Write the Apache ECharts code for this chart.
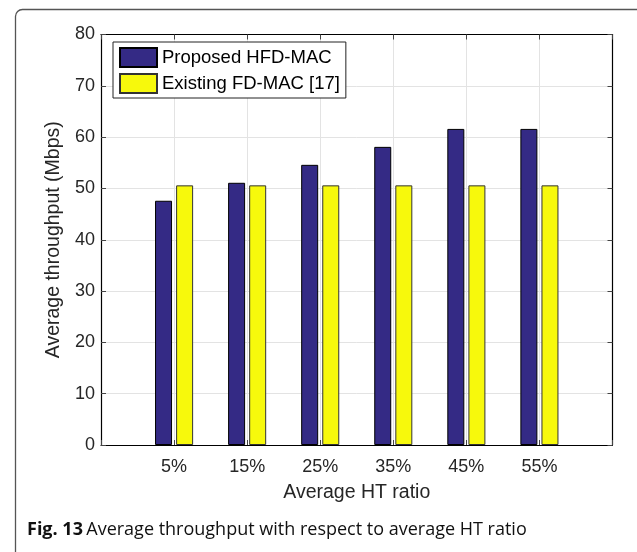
<!DOCTYPE html>
<html><head><meta charset="utf-8">
<script src="https://cdn.jsdelivr.net/npm/echarts@6/dist/echarts.min.js"></script>
<style>html,body{margin:0;padding:0;background:#fff}#c{width:637px;height:552px}</style>
</head><body><div id="c"></div>
<script>
var categories = ['5%', '15%', '25%', '35%', '45%', '55%'];
var proposed = [47.6, 51.1, 54.6, 58.1, 61.6, 61.6];
var existing = [50.6, 50.6, 50.6, 50.6, 50.6, 50.6];
var yTicks = [0, 10, 20, 30, 40, 50, 60, 70, 80];

function pts(arr){ return arr.map(function(v,i){ return [i+1, v]; }); }
var FONT = 'Liberation Sans';
var chart = echarts.init(document.getElementById('c'), null, {renderer:'canvas'});
chart.setOption({
  animation: false,
  backgroundColor: '#fff',
  textStyle: {fontFamily: FONT},
  grid: {left: 101, top: 34.5, right: 24.5, bottom: 107, show: false},
  legend: {
    orient: 'vertical', left: 113, top: 42,
    icon: 'rect',
    itemWidth: 37, itemHeight: 19, itemGap: 5,
    padding: [5, 6, 4, 6],
    borderColor: '#222', borderWidth: 1, backgroundColor: '#fff',
    textStyle: {fontFamily: FONT, fontSize: 18.5, color: '#000'},
    data: ['Proposed HFD-MAC', 'Existing FD-MAC [17]']
  },
  xAxis: [{
    type: 'value', min: 0, max: 7, interval: 1, position: 'bottom',
    axisLine: {show: true, onZero: false, lineStyle: {color: '#000', width: 1.2}},
    axisTick: {show: true, inside: true, length: 5, lineStyle: {color: '#444'}},
    splitLine: {show: true, lineStyle: {color: '#e3e3e3', width: 1}},
    axisLabel: {fontFamily: FONT, fontSize: 18, color: '#262626', margin: 13,
      formatter: function(v){ return (v>=1 && v<=categories.length) ? categories[v-1] : ''; }},
    name: 'Average HT ratio', nameLocation: 'middle', nameGap: 38,
    nameTextStyle: {fontFamily: FONT, fontSize: 19.5, color: '#262626'}
  }, {
    type: 'value', min: 0, max: 7, interval: 1, position: 'top',
    axisLine: {show: true, onZero: false, lineStyle: {color: '#000', width: 1.2}},
    axisTick: {show: true, inside: true, length: 5, lineStyle: {color: '#444'}},
    splitLine: {show: false}, axisLabel: {show: false}
  }],
  yAxis: [{
    type: 'value', min: 0, max: 80, interval: 10, position: 'left',
    axisLine: {show: true, onZero: false, lineStyle: {color: '#000', width: 1.2}},
    axisTick: {show: true, inside: true, length: 5, lineStyle: {color: '#444'}},
    splitLine: {show: true, lineStyle: {color: '#e3e3e3', width: 1}},
    axisLabel: {fontFamily: FONT, fontSize: 18, color: '#262626', margin: 6,
      formatter: function(v){ return yTicks.indexOf(v) >= 0 ? String(v) : ''; }},
    name: 'Average throughput (Mbps)', nameLocation: 'middle', nameGap: 37,
    nameTextStyle: {fontFamily: FONT, fontSize: 19.5, color: '#262626'}
  }, {
    type: 'value', min: 0, max: 80, interval: 10, position: 'right',
    axisLine: {show: true, onZero: false, lineStyle: {color: '#000', width: 1.2}},
    axisTick: {show: true, inside: true, length: 5, lineStyle: {color: '#444'}},
    splitLine: {show: false}, axisLabel: {show: false}
  }],
  series: [{
    name: 'Proposed HFD-MAC', type: 'bar', xAxisIndex: 0, yAxisIndex: 0,
    barWidth: 17, barGap: '24%',
    itemStyle: {color: '#342a85', borderColor: '#000', borderWidth: 1},
    data: pts(proposed)
  }, {
    name: 'Existing FD-MAC [17]', type: 'bar', xAxisIndex: 0, yAxisIndex: 0,
    barWidth: 17, barGap: '24%',
    itemStyle: {color: '#f7f90c', borderColor: '#333', borderWidth: 1},
    data: pts(existing)
  }],
  graphic: [{
    type: 'rect', shape: {x: 15.5, y: 9.5, width: 640, height: 580, r: 7},
    style: {fill: null, stroke: '#555', lineWidth: 1.3}, silent: true, z: -1
  }, {
    type: 'text', left: 27, top: 521,
    style: {
      text: '{b|Fig. 13} {n|Average throughput with respect to average HT ratio}',
      rich: {
        b: {fontFamily: 'Open Sans', fontWeight: 'bold', fontSize: 18, fill: '#111'},
        n: {fontFamily: 'Open Sans', fontSize: 18, fill: '#111'}
      }
    }
  }]
});
</script></body></html>
